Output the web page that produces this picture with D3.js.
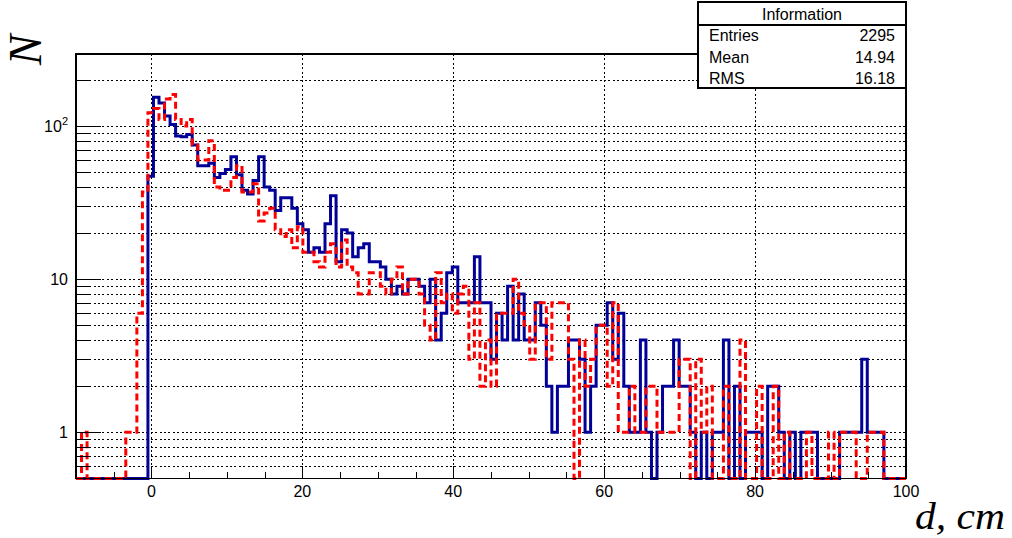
<!DOCTYPE html>
<html><head><meta charset="utf-8">
<script src="https://cdn.jsdelivr.net/npm/d3@7/dist/d3.min.js"></script>
<style>body{margin:0;background:#fff}svg{display:block}</style>
</head><body><svg id="c" width="1012" height="538"></svg>
<script>
// ---- histogram definition ----
const nBins = 150, xMin = -10, xMax = 100;
// blue (solid) histogram counts per bin
const countsBlue = [
  0,0,0,0,0,0,0,0,0,0, 0,0,0,47,154,141,116,102,86,85,
  88,75,55,55,57,46,49,52,63,48, 38,36,44,63,40,38,28,34,34,29,
  23,21,15,16,15,23,35,13,21,20, 14,16,17,13,13,12,10,8,9,8,
  10,10,9,7,10,4,6,11,12,7, 7,7,14,7,7,3,6,4,9,4,
  8,4,4,7,5,2,1,2,2,4, 4,3,1,2,5,5,7,3,6,2,
  1,1,4,1,0,1,2,2,4,2, 2,1,0,1,0,1,1,4,0,2,
  0,1,1,1,0,2,2,1,0,1, 0,1,1,1,0,0,0,0,1,1,
  1,1,3,1,1,1,0,0,0,0
];
// red (dashed) histogram counts per bin
const countsRed = [
  0,1,0,0,0,0,0,0,0,1, 1,6,37,122,130,110,150,160,110,100,
  110,75,60,60,80,40,38,38,46,55, 37,37,42,24,27,29,21,19,21,16,
  22,15,15,13,12,15,17,12,18,12, 11,8,8,11,11,9,8,10,12,8,
  10,10,8,5,4,11,7,8,6,8, 9,3,7,2,4,2,6,6,6,10,
  6,5,3,7,7,3,7,7,7,3, 0,4,2,3,5,5,2,7,1,1,
  2,1,1,2,2,1,1,1,1,3, 3,0,3,1,2,0,0,2,0,0,
  4,0,0,2,0,0,2,0,1,0, 0,0,1,0,0,0,1,0,1,1,
  1,0,0,1,1,1,0,0,0,0
];
const xLabels = [0, 20, 40, 60, 80, 100];
const yLabels = [1, 10, 100];
const statsTitle = "Information";
const statsNames = ["Entries", "Mean", "RMS"];
const statsValues = ["2295", "14.94", "16.18"];

// ---- layout ----
const svg = d3.select("#c");
const fr = {l: 76, r: 906, t: 54, b: 478.5};
const x = d3.scaleLinear().domain([xMin, xMax]).range([fr.l, fr.r]);
const y = d3.scaleLog().domain([0.5, 294.6]).range([fr.b, fr.t]);
const bw = (xMax - xMin) / nBins;
const snap = v => Math.round(v) + 0.5;

svg.append("rect").attr("width", 1012).attr("height", 538).attr("fill", "#fff");

// grid
const g = svg.append("g").attr("shape-rendering", "crispEdges");
const yGrid = [];
for (let p = -1; p <= 2; p++) for (let m = 1; m <= 9; m++) {
  const v = m * Math.pow(10, p);
  if (v > 0.5 + 1e-9 && v < 294) yGrid.push(v);
}
g.selectAll("line.hg").data(yGrid).join("line")
  .attr("x1", fr.l).attr("x2", fr.r)
  .attr("y1", d => snap(y(d))).attr("y2", d => snap(y(d)))
  .attr("stroke", "#000").attr("stroke-width", 1.5).attr("stroke-dasharray", "2,2.4");
g.selectAll("line.vg").data(xLabels.filter(v => v < xMax)).join("line")
  .attr("x1", d => snap(x(d))).attr("x2", d => snap(x(d)))
  .attr("y1", fr.t).attr("y2", fr.b)
  .attr("stroke", "#000").attr("stroke-width", 1.5).attr("stroke-dasharray", "2,2.4");

// histograms
function stepPoints(counts) {
  const pts = [];
  counts.forEach((c, i) => {
    const yy = y(Math.max(c, 0.5));
    pts.push([x(xMin + i * bw), yy], [x(xMin + (i + 1) * bw), yy]);
  });
  return pts;
}
const line = d3.line();
svg.append("path").attr("d", line(stepPoints(countsBlue)))
  .attr("fill", "none").attr("stroke", "#000099").attr("stroke-width", 3).attr("stroke-linejoin", "miter");
svg.append("path").attr("d", line(stepPoints(countsRed)))
  .attr("fill", "none").attr("stroke", "#ff0000").attr("stroke-width", 3).attr("stroke-dasharray", "7,4");

// frame
const ax = svg.append("g").attr("shape-rendering", "crispEdges");
ax.append("rect").attr("x", fr.l).attr("y", fr.t).attr("width", fr.r - fr.l).attr("height", fr.b - fr.t)
  .attr("fill", "none").attr("stroke", "#000").attr("stroke-width", 1.6);

// x ticks
const xMinor = d3.range(-5, 100, 5);
ax.selectAll("line.xt").data(xMinor).join("line")
  .attr("x1", d => snap(x(d))).attr("x2", d => snap(x(d)))
  .attr("y1", fr.b).attr("y2", d => fr.b - (d % 20 === 0 ? 12.7 : 6.4))
  .attr("stroke", "#000").attr("stroke-width", 1.5);
svg.selectAll("text.xl").data(xLabels).join("text")
  .attr("x", d => x(d)).attr("y", 497)
  .attr("text-anchor", "middle").attr("font-family", "Liberation Sans, Arial, sans-serif")
  .attr("font-size", 16).text(d => d);

// y ticks
ax.selectAll("line.yt").data(yGrid).join("line")
  .attr("x1", fr.l).attr("x2", d => fr.l + (yLabels.includes(d) ? 25 : 12.5))
  .attr("y1", d => snap(y(d))).attr("y2", d => snap(y(d)))
  .attr("stroke", "#000").attr("stroke-width", 1.5);
const yl = svg.selectAll("text.yl").data(yLabels).join("text")
  .attr("x", 68).attr("y", d => y(d) + 6)
  .attr("text-anchor", "end").attr("font-family", "Liberation Sans, Arial, sans-serif")
  .attr("font-size", 16);
yl.each(function(d) {
  const t = d3.select(this);
  if (d === 100) {
    t.append("tspan").text("10");
    t.append("tspan").attr("font-size", 11).attr("dy", -7).text("2");
  } else t.text(d);
});

// axis titles
svg.append("text").attr("transform", "translate(41,50) rotate(-90)")
  .attr("text-anchor", "middle").attr("font-family", "Liberation Serif, Times New Roman, serif")
  .attr("font-style", "italic").attr("font-size", 46).text("N");
svg.append("text").attr("x", 1005).attr("y", 529)
  .attr("text-anchor", "end").attr("font-family", "Liberation Serif, Times New Roman, serif")
  .attr("font-style", "italic").attr("font-size", 37)
  .attr("textLength", 90).attr("lengthAdjust", "spacingAndGlyphs")
  .text("d, cm");

// stats box
const sb = {l: 698, r: 906, t: 2, b: 88, sep: 25};
const sg = svg.append("g").attr("shape-rendering", "crispEdges");
sg.append("rect").attr("x", sb.l).attr("y", sb.t).attr("width", sb.r - sb.l).attr("height", sb.b - sb.t)
  .attr("fill", "#fff").attr("stroke", "#000").attr("stroke-width", 1.5);
sg.append("line").attr("x1", sb.l).attr("x2", sb.r).attr("y1", sb.sep).attr("y2", sb.sep)
  .attr("stroke", "#000").attr("stroke-width", 1.5);
svg.append("text").attr("x", (sb.l + sb.r) / 2).attr("y", 20).attr("text-anchor", "middle")
  .attr("font-family", "Liberation Sans, Arial, sans-serif").attr("font-size", 16).text(statsTitle);
const rowY = [41, 63, 84];
statsNames.forEach((n, i) => {
  svg.append("text").attr("x", 709).attr("y", rowY[i])
    .attr("font-family", "Liberation Sans, Arial, sans-serif").attr("font-size", 16).text(n);
  svg.append("text").attr("x", 895).attr("y", rowY[i]).attr("text-anchor", "end")
    .attr("font-family", "Liberation Sans, Arial, sans-serif").attr("font-size", 16).text(statsValues[i]);
});
</script></body></html>
